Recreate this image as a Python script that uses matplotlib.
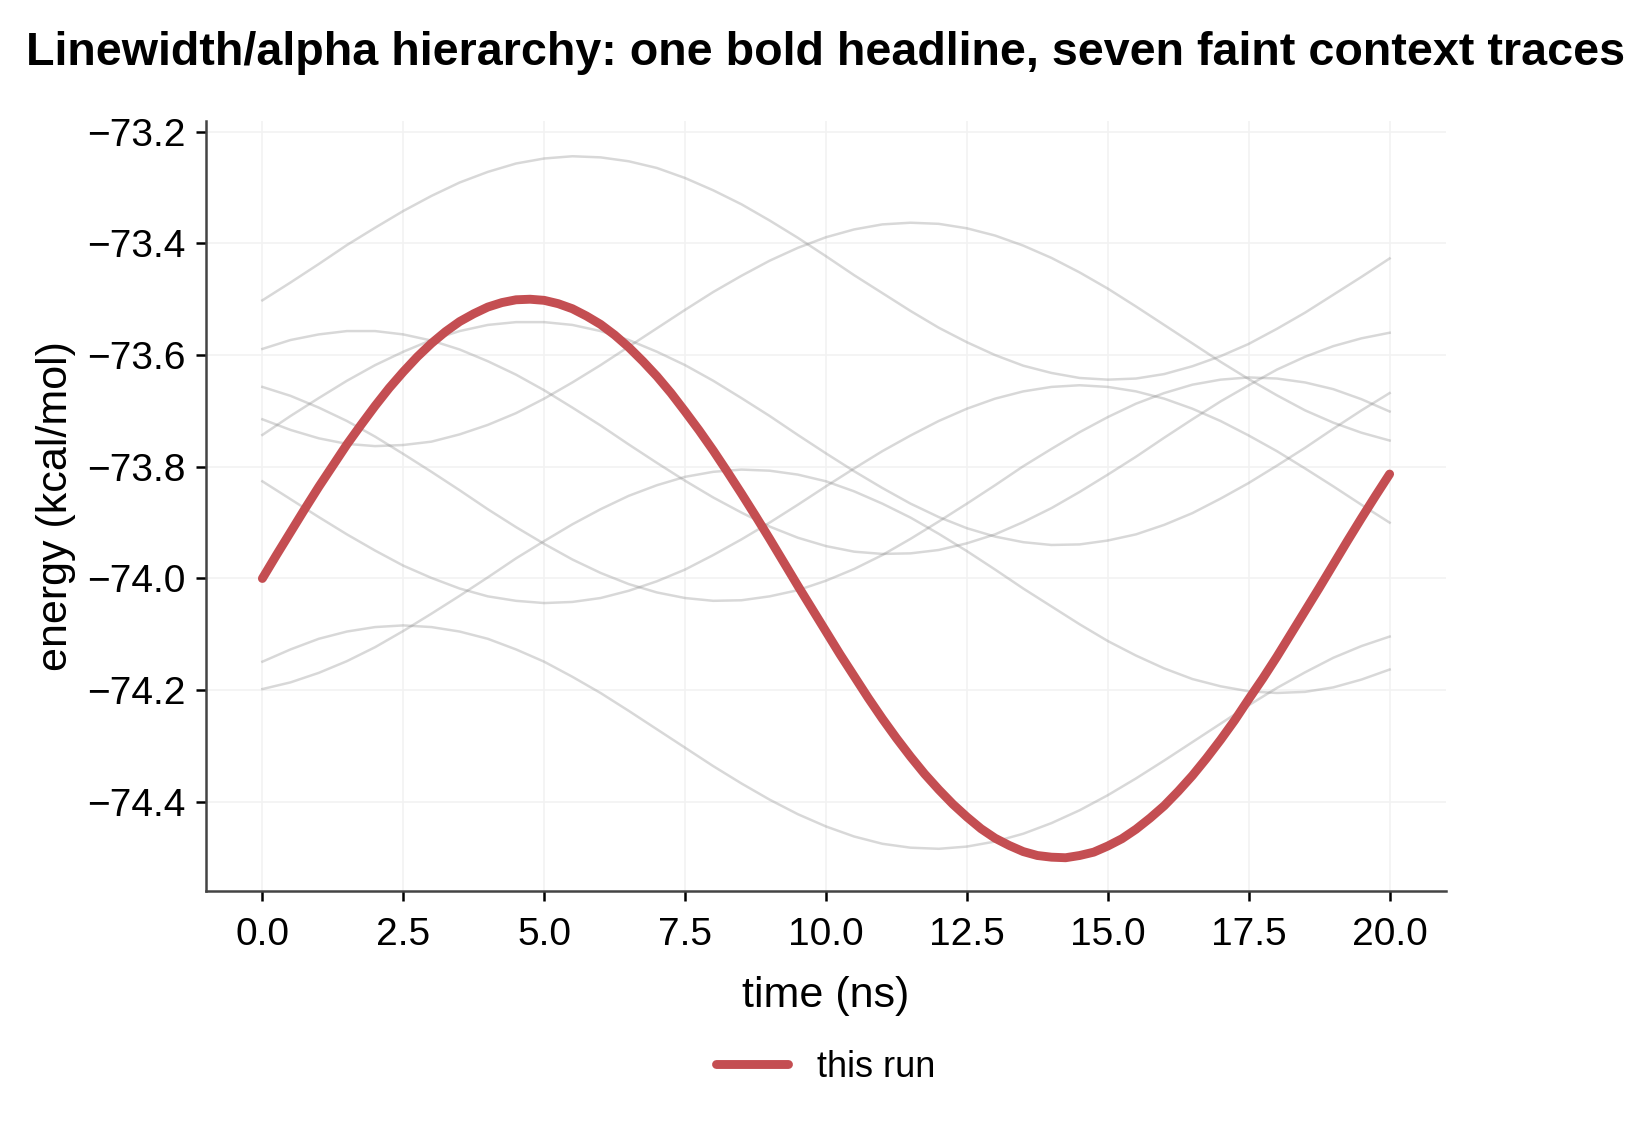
import matplotlib
matplotlib.use("Agg")
import matplotlib.pyplot as plt

plt.rcParams['font.family'] = ['Liberation Sans', 'DejaVu Sans']

# time axis (ns)
t_run = [i * 0.25 for i in range(81)]
t_ctx = [i * 0.5 for i in range(41)]

# headline trace
this_run = [-74.000, -73.958, -73.917, -73.876, -73.836, -73.798, -73.760, -73.725,
            -73.691, -73.659, -73.630, -73.603, -73.579, -73.558, -73.540, -73.526,
            -73.514, -73.506, -73.501, -73.500, -73.502, -73.508, -73.517, -73.530,
            -73.545, -73.564, -73.586, -73.611, -73.638, -73.668, -73.701, -73.735,
            -73.771, -73.809, -73.848, -73.888, -73.929, -73.971, -74.013, -74.054,
            -74.095, -74.136, -74.175, -74.214, -74.251, -74.286, -74.319, -74.350,
            -74.378, -74.404, -74.427, -74.448, -74.465, -74.478, -74.489, -74.496,
            -74.499, -74.500, -74.496, -74.490, -74.479, -74.466, -74.449, -74.429,
            -74.407, -74.381, -74.353, -74.322, -74.289, -74.254, -74.216, -74.179,
            -74.140, -74.099, -74.058, -74.017, -73.975, -73.933, -73.892, -73.852,
            -73.813]

# faint context traces
ctx_a = [-73.502, -73.470, -73.437, -73.403, -73.372, -73.342, -73.315, -73.291,
         -73.272, -73.257, -73.248, -73.244, -73.246, -73.253, -73.265, -73.283,
         -73.305, -73.330, -73.359, -73.390, -73.423, -73.457, -73.489, -73.521,
         -73.551, -73.577, -73.600, -73.619, -73.632, -73.641, -73.644, -73.642,
         -73.634, -73.620, -73.602, -73.580, -73.553, -73.524, -73.492, -73.460,
         -73.427]
ctx_b = [-73.589, -73.573, -73.563, -73.557, -73.557, -73.563, -73.574, -73.590,
         -73.611, -73.635, -73.663, -73.694, -73.726, -73.760, -73.793, -73.825,
         -73.855, -73.882, -73.907, -73.927, -73.942, -73.952, -73.956, -73.955,
         -73.949, -73.937, -73.921, -73.899, -73.874, -73.845, -73.814, -73.782,
         -73.748, -73.715, -73.683, -73.654, -73.626, -73.603, -73.584, -73.570,
         -73.560]
ctx_c = [-73.657, -73.673, -73.694, -73.718, -73.746, -73.777, -73.809, -73.842,
         -73.876, -73.908, -73.938, -73.966, -73.990, -74.010, -74.025, -74.035,
         -74.040, -74.039, -74.032, -74.021, -74.004, -73.983, -73.958, -73.929,
         -73.898, -73.866, -73.833, -73.799, -73.768, -73.738, -73.711, -73.687,
         -73.668, -73.653, -73.644, -73.640, -73.642, -73.649, -73.661, -73.679,
         -73.701]
ctx_d = [-73.715, -73.734, -73.749, -73.759, -73.763, -73.761, -73.755, -73.742,
         -73.725, -73.704, -73.678, -73.649, -73.618, -73.585, -73.552, -73.519,
         -73.487, -73.458, -73.431, -73.408, -73.389, -73.375, -73.366, -73.363,
         -73.365, -73.373, -73.386, -73.404, -73.426, -73.452, -73.481, -73.513,
         -73.546, -73.579, -73.612, -73.643, -73.672, -73.699, -73.721, -73.739,
         -73.753]
ctx_e = [-73.743, -73.709, -73.677, -73.646, -73.618, -73.594, -73.573, -73.557,
         -73.546, -73.541, -73.541, -73.546, -73.557, -73.573, -73.594, -73.618,
         -73.646, -73.677, -73.709, -73.743, -73.776, -73.808, -73.838, -73.866,
         -73.890, -73.910, -73.925, -73.935, -73.940, -73.939, -73.932, -73.921,
         -73.904, -73.883, -73.857, -73.829, -73.798, -73.766, -73.732, -73.699,
         -73.668]
ctx_f = [-73.826, -73.858, -73.890, -73.921, -73.950, -73.977, -73.999, -74.018,
         -74.032, -74.040, -74.044, -74.042, -74.035, -74.022, -74.005, -73.984,
         -73.958, -73.930, -73.900, -73.868, -73.835, -73.803, -73.772, -73.744,
         -73.718, -73.696, -73.678, -73.665, -73.657, -73.654, -73.657, -73.665,
         -73.678, -73.696, -73.718, -73.744, -73.772, -73.803, -73.835, -73.868,
         -73.900]
ctx_g = [-74.149, -74.127, -74.108, -74.095, -74.087, -74.084, -74.087, -74.095,
         -74.108, -74.127, -74.149, -74.176, -74.205, -74.237, -74.270, -74.303,
         -74.336, -74.367, -74.396, -74.422, -74.444, -74.462, -74.475, -74.482,
         -74.484, -74.480, -74.471, -74.457, -74.438, -74.415, -74.388, -74.358,
         -74.326, -74.293, -74.260, -74.227, -74.196, -74.168, -74.142, -74.121,
         -74.104]
ctx_h = [-74.198, -74.186, -74.169, -74.148, -74.123, -74.094, -74.063, -74.031,
         -73.998, -73.964, -73.933, -73.903, -73.876, -73.852, -73.833, -73.818,
         -73.809, -73.805, -73.807, -73.814, -73.826, -73.844, -73.866, -73.891,
         -73.920, -73.951, -73.984, -74.018, -74.050, -74.082, -74.112, -74.138,
         -74.161, -74.180, -74.193, -74.202, -74.205, -74.203, -74.195, -74.181,
         -74.163]

context = [ctx_a, ctx_b, ctx_c, ctx_d, ctx_e, ctx_f, ctx_g, ctx_h]


def main():
    fig = plt.figure(figsize=(8.26, 5.605), dpi=200)
    ax = fig.add_axes([0.1247, 0.2052, 0.7506, 0.6868])

    for ys in context:
        ax.plot(t_ctx, ys, color="#808080", alpha=0.3, linewidth=0.9, zorder=2)
    ax.plot(t_run, this_run, color="#c44e52", linewidth=3.2,
            solid_capstyle="round", label="this run", zorder=3)

    ax.set_xlim(-1, 21)
    ax.set_ylim(-74.5595, -73.181)
    ax.set_xticks([0, 2.5, 5, 7.5, 10, 12.5, 15, 17.5, 20])
    ax.set_yticks([-74.4, -74.2, -74.0, -73.8, -73.6, -73.4, -73.2])

    ax.grid(True, color="#f2f2f2", linewidth=0.6, zorder=0)
    ax.set_axisbelow(True)
    for side in ("top", "right"):
        ax.spines[side].set_visible(False)
    for side in ("left", "bottom"):
        ax.spines[side].set_color("#444444")
        ax.spines[side].set_linewidth(0.9)
    ax.tick_params(axis="both", labelsize=14, length=3.5, width=0.9,
                   color="black", pad=4)
    ax.tick_params(axis="x", pad=6)

    ax.set_xlabel("time (ns)", fontsize=15.5, labelpad=8)
    ax.set_ylabel("energy (kcal/mol)", fontsize=15.5, labelpad=4)
    fig.suptitle("Linewidth/alpha hierarchy: one bold headline, seven faint context traces",
                 fontsize=16.8, fontweight="bold", x=0.5, y=0.972)

    fig.legend(loc="center", bbox_to_anchor=(0.5, 0.048), frameon=False,
               fontsize=13, handlelength=2.0)

    fig.savefig("out.png", dpi=200)


if __name__ == "__main__":
    main()
